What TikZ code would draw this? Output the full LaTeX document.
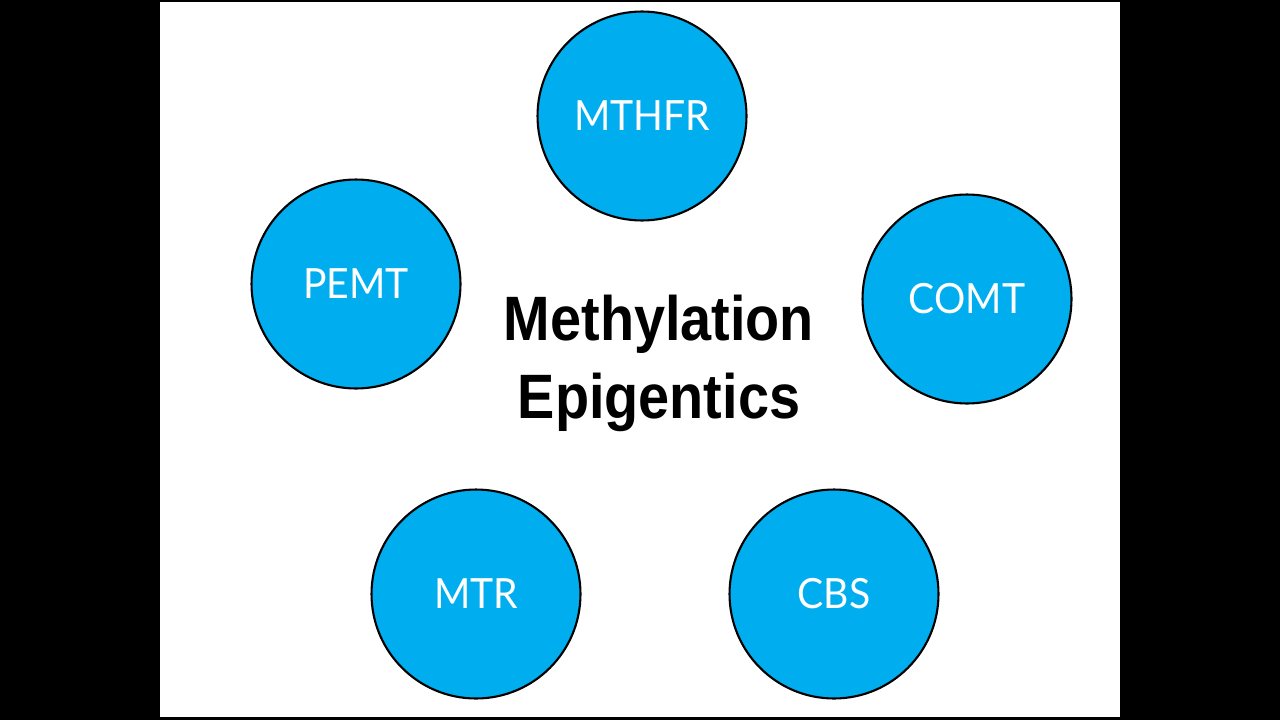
\documentclass[tikz,border=0pt]{standalone}
\usepackage{fontspec}
\usepackage{tikz}
\usetikzlibrary{positioning}
\newfontfamily\genefont[FakeStretch=0.94]{Lato}
\newfontfamily\titlefont[FakeStretch=0.89]{Liberation Sans}

\begin{document}
\begin{tikzpicture}[x=0.02cm, y=-0.02cm,
    gene/.style={circle, draw=black, line width=1.2pt, fill=geneblue,
        minimum size=4.18cm, inner sep=0pt, text=white,
        font=\genefont\fontsize{23.7}{28}\selectfont},
    title/.style={anchor=base, inner sep=0pt,
        font=\titlefont\bfseries\fontsize{35.7}{44}\selectfont}]
            % Цвета
            \definecolor{geneblue}{RGB}{0,174,239}

            % Фон
            \fill[black] (0,0) rectangle (1280,720);
            \fill[white] (160,2) rectangle (1120,717);
            \useasboundingbox (0,0) rectangle (1280,720);

            % Гены
            \node[gene] (mthfr) at (642,116) {MTHFR};
            \node[gene] (pemt) at (356,284) {PEMT};
            \node[gene] (comt) at (967,299) {COMT};
            \node[gene] (mtr) at (476,594) {MTR};
            \node[gene] (cbs) at (834,594) {CBS};

            % Текст
            \node[title] (methyl) at (659,340) {Methylation};
            \node[title] (epigen) at (659,418) {Epigentics};

        \end{tikzpicture}
\end{document}
